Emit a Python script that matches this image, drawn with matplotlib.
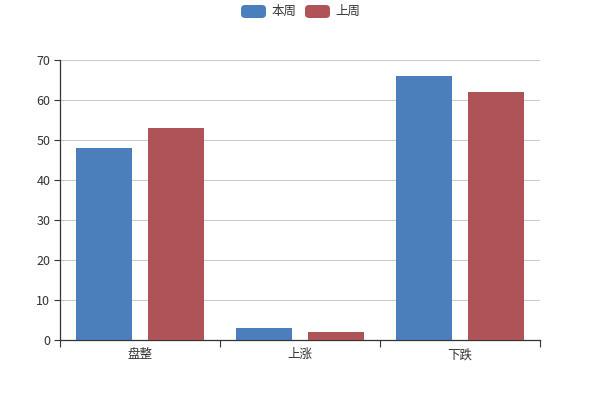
import matplotlib
matplotlib.use("Agg")
from matplotlib import pyplot as plt
from matplotlib.patches import FancyBboxPatch
from matplotlib.transforms import IdentityTransform
import numpy as np

plt.rcParams['font.family'] = ['Noto Sans CJK SC', 'DejaVu Sans']

# данные
categories = ["盘整", "上涨", "下跌"]
series_names = ["本周", "上周"]
this_week = [48, 3, 66]
last_week = [53, 2, 62]
colors = ["#4b7fbb", "#af5358"]

fig = plt.figure(figsize=(6, 4), dpi=100, facecolor='white')
ax = fig.add_axes([0.1, 0.15, 0.8, 0.7])

x = np.arange(len(categories))
w = 0.35
ax.bar(x - 0.228, this_week, width=w, color=colors[0], zorder=3)
ax.bar(x + 0.228, last_week, width=w, color=colors[1], zorder=3)

ax.set_xlim(-0.5, len(categories) - 0.5)
ax.set_ylim(0, 70)
ax.set_yticks(range(0, 71, 10))
ax.yaxis.grid(True, color='#cccccc', linewidth=0.8, zorder=0)

# ось x: засечки на границах категорий
ax.set_xticks(np.arange(len(categories) + 1) - 0.5)
ax.set_xticklabels([])
ax.set_xticks(x, minor=True)
ax.set_xticklabels(categories, minor=True)
ax.tick_params(axis='x', which='minor', length=0, pad=6, labelsize=9, labelcolor='#333333')
ax.tick_params(axis='x', which='major', length=5, color='#333333')
ax.tick_params(axis='y', length=4, color='#333333', labelsize=9, labelcolor='#333333', pad=3)

for s in ['top', 'right']:
    ax.spines[s].set_visible(False)
for s in ['left', 'bottom']:
    ax.spines[s].set_color('#333333')
    ax.spines[s].set_linewidth(0.9)

# легенда в стиле echarts (в пикселях)
lx = [241, 305]
for i, name in enumerate(series_names):
    box = FancyBboxPatch((lx[i], 400 - 18), 25, 13,
                         boxstyle="round,pad=0,rounding_size=4",
                         facecolor=colors[i], edgecolor='none',
                         transform=IdentityTransform())
    fig.add_artist(box)
    fig.text((lx[i] + 30) / 600, 1 - 11.5 / 400, name, fontsize=9,
             color='#333333', va='center', ha='left')

fig.savefig("out.png", dpi=100, facecolor='white')
